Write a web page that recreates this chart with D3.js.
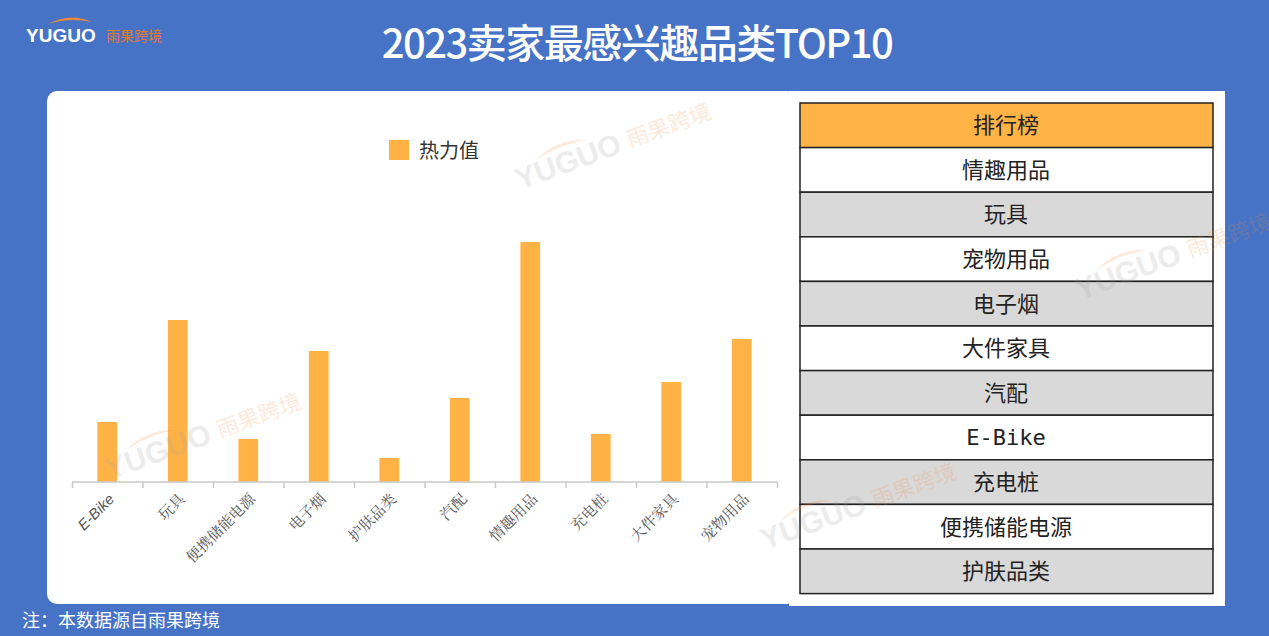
<!DOCTYPE html>
<html><head><meta charset="utf-8">
<script src="https://cdn.jsdelivr.net/npm/d3@7"></script>
<style>body{margin:0;background:#4673C6;font-family:"Noto Sans CJK SC",sans-serif}</style>
</head><body>
<svg width="1269" height="636"></svg>
<script>
// chart data
const categories = ["E-Bike","玩具","便携储能电源","电子烟","护肤品类","汽配","情趣用品","充电桩","大件家具","宠物用品"];
const heatValues = [60, 162, 43, 131, 24, 84, 240, 48, 100, 143];
const ranking = ["情趣用品","玩具","宠物用品","电子烟","大件家具","汽配","E-Bike","充电桩","便携储能电源","护肤品类"];

const svg = d3.select("svg");
const F = '"Noto Sans CJK SC", sans-serif';
svg.append("rect").attr("width",1269).attr("height",636).attr("fill","#4673C6");

// logo
svg.append("path").attr("d","M48,24 Q70,12 92,22 Q70,17 48,24Z").attr("fill","#F08A3A");
svg.append("text").attr("x",26).attr("y",42).attr("fill","#fff").attr("font-family","Arial, Liberation Sans").attr("font-weight","bold").attr("font-size",19).text("YUGUO");
svg.append("text").attr("x",106).attr("y",41).attr("fill","#E8772E").attr("font-family",F).attr("font-size",14).text("雨果跨境");

svg.append("text").attr("x",637).attr("y",58).attr("text-anchor","middle").attr("fill","#fff")
  .attr("font-family",F).attr("font-size",40).attr("font-weight",500).attr("letter-spacing",-1.5).text("2023卖家最感兴趣品类TOP10");

// chart card
svg.append("rect").attr("x",47).attr("y",91).attr("width",750).attr("height",513).attr("rx",10).attr("fill","#fff");
svg.append("rect").attr("x",789).attr("y",91).attr("width",436).attr("height",515).attr("fill","#fff");

const x = d3.scaleBand().domain(categories).range([72,777]).paddingInner(0.72).paddingOuter(0.36);
const y = d3.scaleLinear().domain([0,240]).range([482,242]);

svg.selectAll("rect.bar").data(categories).join("rect").attr("class","bar")
  .attr("x",d=>x(d)).attr("width",x.bandwidth())
  .attr("y",(d,i)=>y(heatValues[i])).attr("height",(d,i)=>482-y(heatValues[i]))
  .attr("fill","#FFB347");

const xAxis = d3.axisBottom(d3.scalePoint().domain(d3.range(11)).range([72,777])).tickSize(6).tickFormat("");
const ax = svg.append("g").attr("transform","translate(0,482)").call(xAxis);
ax.selectAll("line,path").attr("stroke","#C8C8C8").attr("stroke-width",1.5);
ax.select("path").attr("d","M72,0H777");

svg.selectAll("text.cat").data(categories).join("text").attr("class","cat")
  .attr("transform",d=>`translate(${x(d)+x.bandwidth()/2+8},${500}) rotate(-45)`)
  .attr("text-anchor","end").attr("font-family",d=>d==="E-Bike"?"Liberation Sans":"Noto Serif CJK SC, serif")
  .attr("font-style",d=>d==="E-Bike"?"italic":null)
  .attr("font-size",15).attr("fill","#555").text(d=>d);

// legend
svg.append("rect").attr("x",389).attr("y",140).attr("width",20).attr("height",20).attr("fill","#FFB347");
svg.append("text").attr("x",419).attr("y",158).attr("font-family",F).attr("font-size",20).attr("fill","#333").text("热力值");

// ranking table
const rowH = 44.6, ty = 103;
svg.append("rect").attr("x",800).attr("y",ty).attr("width",413).attr("height",rowH).attr("fill","#FFB347").attr("stroke","#222").attr("stroke-width",1.5);
svg.append("text").attr("x",1006).attr("y",ty+rowH/2+8).attr("text-anchor","middle").attr("font-family",F).attr("font-size",22).attr("fill","#222").text("排行榜");
const rows = svg.selectAll("g.row").data(ranking).join("g").attr("class","row")
  .attr("transform",(d,i)=>`translate(800,${ty+rowH*(i+1)})`);
rows.append("rect").attr("width",413).attr("height",rowH).attr("fill",(d,i)=>i%2?"#D9D9D9":"#fff").attr("stroke","#222").attr("stroke-width",1.5);
rows.append("text").attr("x",206).attr("y",rowH/2+8).attr("text-anchor","middle").attr("font-family",d=>d==="E-Bike"?"DejaVu Sans Mono":F)
  .attr("font-size",22).attr("fill","#222").text(d=>d);

// watermarks
const wm = [[520,190],[110,480],[1080,300],[765,550]];
wm.forEach(([wx,wy])=>{
  const g = svg.append("g").attr("transform",`translate(${wx},${wy}) rotate(-20)`).attr("opacity",0.18);
  g.append("path").attr("d","M25,-22 Q50,-36 80,-24 Q50,-30 25,-22Z").attr("fill","#F08A3A");
  g.append("text").attr("font-family","Liberation Sans").attr("font-weight","bold").attr("font-size",30).attr("fill","#999").text("YUGUO");
  g.append("text").attr("x",118).attr("y",-2).attr("font-family",F).attr("font-size",22).attr("fill","#F08A3A").text("雨果跨境");
});

svg.append("text").attr("x",22).attr("y",627).attr("font-family",F).attr("font-size",18).attr("fill","#fff").text("注：本数据源自雨果跨境");
</script>
</body></html>
